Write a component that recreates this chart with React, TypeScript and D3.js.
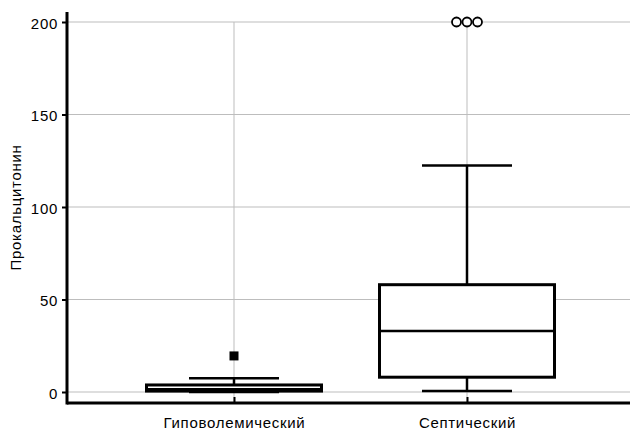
import { useEffect, useRef } from "react";
import * as d3 from "d3";

const categories = ["Гиповолемический", "Септический"];
const lowerWhisker = [0, 0.5];
const q1 = [0.5, 8];
const median = [1.5, 33];
const q3 = [3.8, 58];
const upperWhisker = [7.4, 122.5];
const outliers = [[19.5], [200, 200, 200]];
const outlierShape = ["square", "circle"];
const yTicks = [0, 50, 100, 150, 200];
const yLabel = "Прокальцитонин";

const App = () => {
  const ref = useRef<SVGSVGElement | null>(null);

  useEffect(() => {
    if (!ref.current) return;
    const svg = d3.select(ref.current);
    svg.selectAll("*").remove();

    const width = 630;
    const height = 430;
    const left = 67;
    const bottom = 403;
    const font = "'Liberation Sans', Arial, sans-serif";
    const fontSize = 15;
    const spacing = 0.7;

    const x = d3.scalePoint<string>().domain(categories).range([234, 467]);
    const y = d3.scaleLinear().domain([0, 200]).range([392, 22]);
    const boxW = 175;
    const capW = 90;

    svg.attr("width", width).attr("height", height);

    // grid
    svg
      .append("g")
      .selectAll("line")
      .data(yTicks)
      .join("line")
      .attr("x1", left)
      .attr("x2", width)
      .attr("y1", (d) => y(d))
      .attr("y2", (d) => y(d))
      .attr("stroke", "#bdbdbd")
      .attr("stroke-width", 1);
    svg
      .append("g")
      .selectAll("line")
      .data(categories)
      .join("line")
      .attr("x1", (d) => x(d)!)
      .attr("x2", (d) => x(d)!)
      .attr("y1", y(200))
      .attr("y2", bottom)
      .attr("stroke", "#bdbdbd")
      .attr("stroke-width", 1);

    const groups = svg
      .append("g")
      .selectAll("g")
      .data(categories)
      .join("g");

    // whiskers
    groups
      .append("line")
      .attr("x1", (d) => x(d)!)
      .attr("x2", (d) => x(d)!)
      .attr("y1", (_, i) => y(upperWhisker[i]))
      .attr("y2", (_, i) => y(q3[i]))
      .attr("stroke", "#000")
      .attr("stroke-width", 2.5);
    groups
      .append("line")
      .attr("x1", (d) => x(d)!)
      .attr("x2", (d) => x(d)!)
      .attr("y1", (_, i) => y(lowerWhisker[i]))
      .attr("y2", (_, i) => y(q1[i]))
      .attr("stroke", "#000")
      .attr("stroke-width", 2.5);
    [upperWhisker, lowerWhisker].forEach((arr) => {
      groups
        .append("line")
        .attr("x1", (d) => x(d)! - capW / 2)
        .attr("x2", (d) => x(d)! + capW / 2)
        .attr("y1", (_, i) => y(arr[i]))
        .attr("y2", (_, i) => y(arr[i]))
        .attr("stroke", "#000")
        .attr("stroke-width", 2.5);
    });

    // box
    groups
      .append("rect")
      .attr("x", (d) => x(d)! - boxW / 2)
      .attr("width", boxW)
      .attr("y", (_, i) => y(q3[i]))
      .attr("height", (_, i) => y(q1[i]) - y(q3[i]))
      .attr("fill", "#fff")
      .attr("stroke", "#000")
      .attr("stroke-width", 3);
    groups
      .append("line")
      .attr("x1", (d) => x(d)! - boxW / 2)
      .attr("x2", (d) => x(d)! + boxW / 2)
      .attr("y1", (_, i) => y(median[i]))
      .attr("y2", (_, i) => y(median[i]))
      .attr("stroke", "#000")
      .attr("stroke-width", 2.5);

    // outliers
    groups.each(function (d, i) {
      const g = d3.select(this);
      const pts = outliers[i];
      const cx = x(d)!;
      pts.forEach((v, j) => {
        const off = (j - (pts.length - 1) / 2) * 10.5;
        if (outlierShape[i] === "square") {
          g.append("rect")
            .attr("x", cx + off - 4.5)
            .attr("y", y(v) - 4.5)
            .attr("width", 9)
            .attr("height", 9)
            .attr("fill", "#000");
        } else {
          g.append("circle")
            .attr("cx", cx + off)
            .attr("cy", y(v))
            .attr("r", 4.5)
            .attr("fill", "#fff")
            .attr("stroke", "#000")
            .attr("stroke-width", 1.8);
        }
      });
    });

    // y axis
    const yAxis = svg
      .append("g")
      .attr("transform", `translate(${left},0)`)
      .call(d3.axisLeft(y).tickValues(yTicks).tickSize(5).tickPadding(4));
    yAxis.select(".domain").remove();
    yAxis.selectAll(".tick line").attr("stroke", "#000").attr("stroke-width", 2);
    yAxis
      .selectAll(".tick text")
      .attr("font-family", font)
      .attr("font-size", fontSize)
      .attr("letter-spacing", spacing)
      .attr("dy", "0.4em")
      .attr("fill", "#000");
    svg
      .append("line")
      .attr("x1", left)
      .attr("x2", left)
      .attr("y1", 12)
      .attr("y2", bottom + 1.5)
      .attr("stroke", "#000")
      .attr("stroke-width", 3);

    // x axis
    const xAxis = svg
      .append("g")
      .attr("transform", `translate(0,${bottom})`)
      .call(d3.axisBottom(x).tickSize(-6));
    xAxis.select(".domain").remove();
    xAxis.selectAll(".tick line").attr("stroke", "#000").attr("stroke-width", 2);
    xAxis
      .selectAll(".tick text")
      .attr("font-family", font)
      .attr("font-size", fontSize)
      .attr("letter-spacing", spacing)
      .attr("y", 25)
      .attr("dy", 0)
      .attr("fill", "#000");
    svg
      .append("line")
      .attr("x1", left)
      .attr("x2", width)
      .attr("y1", bottom)
      .attr("y2", bottom)
      .attr("stroke", "#000")
      .attr("stroke-width", 3);

    svg
      .append("text")
      .attr("transform", `translate(21,${(12 + bottom) / 2}) rotate(-90)`)
      .attr("text-anchor", "middle")
      .attr("font-family", font)
      .attr("font-size", fontSize)
      .attr("letter-spacing", spacing)
      .attr("fill", "#000")
      .text(yLabel);
  }, []);

  return (
    <div style={{ position: "absolute", left: 0, top: 0, background: "#fff" }}>
      <svg ref={ref} style={{ display: "block" }}></svg>
    </div>
  );
};

export default App;
